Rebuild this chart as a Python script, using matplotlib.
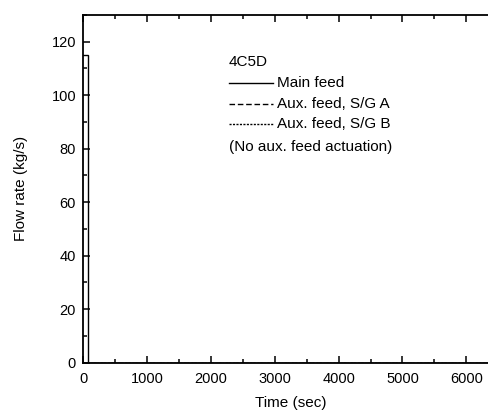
import matplotlib
matplotlib.use("Agg")
import matplotlib.pyplot as plt
from matplotlib.lines import Line2D
from matplotlib.ticker import MultipleLocator

plt.rcParams['font.family'] = ['Liberation Sans', 'DejaVu Sans']

# Data
t_main = [0, 83, 83, 6500]
main_feed = [115, 115, 0, 0]
t_aux = [0, 6500]
aux_a = [0, 0]
aux_b = [0, 0]

legend_title = "4C5D"
legend_labels = ["Main feed", "Aux. feed, S/G A", "Aux. feed, S/G B"]
legend_note = "(No aux. feed actuation)"

fig = plt.figure(figsize=(4.88, 4.12), dpi=100)
ax_left = 83 / 488
ax_bottom = 1 - 362.7 / 412
ax_height = (362.7 - 15) / 412
ax_width = (6500 * 0.0639) / 488
ax = fig.add_axes([ax_left, ax_bottom, ax_width, ax_height])

ax.plot(t_main, main_feed, color='black', lw=1.0, solid_joinstyle='miter')
ax.plot(t_aux, aux_a, color='black', lw=1.0, ls=(0, (4, 2)))
ax.plot(t_aux, aux_b, color='black', lw=1.0, ls=(0, (1.5, 1)))

ax.set_xlim(0, 6500)
ax.set_ylim(0, 130)
ax.xaxis.set_major_locator(MultipleLocator(1000))
ax.xaxis.set_minor_locator(MultipleLocator(500))
ax.yaxis.set_major_locator(MultipleLocator(20))
ax.yaxis.set_minor_locator(MultipleLocator(10))
ax.set_yticks([0, 20, 40, 60, 80, 100, 120])

for s in ax.spines.values():
    s.set_linewidth(1.3)

ax.tick_params(which='both', direction='in', top=True, right=False, width=1.1, labelsize=10.5)
ax.tick_params(which='major', length=5)
ax.tick_params(which='minor', length=3)
ax.tick_params(axis='y', pad=5)
ax.tick_params(axis='x', pad=7)

ax.set_xlabel("Time (sec)", fontsize=11, labelpad=7)
ax.set_ylabel("Flow rate (kg/s)", fontsize=11, labelpad=17)

# Manual legend in pixel-based figure coordinates
def fx(px):
    return px / 488
def fy(py):
    return 1 - py / 412

fs = 11
fig.text(fx(229), fy(62), legend_title, fontsize=fs, va='center', ha='left')
styles = ['-', (0, (4, 2)), (0, (1.5, 1))]
rows_y = [82.7, 104, 124.3]
for lab, st, yy in zip(legend_labels, styles, rows_y):
    fig.add_artist(Line2D([fx(229), fx(272.5)], [fy(yy), fy(yy)], color='black', lw=1.0, ls=st,
                          transform=fig.transFigure))
    fig.text(fx(277), fy(yy), lab, fontsize=fs, va='center', ha='left')
fig.text(fx(229), fy(146.5), legend_note, fontsize=fs, va='center', ha='left')

fig.savefig("out.png", dpi=100)
